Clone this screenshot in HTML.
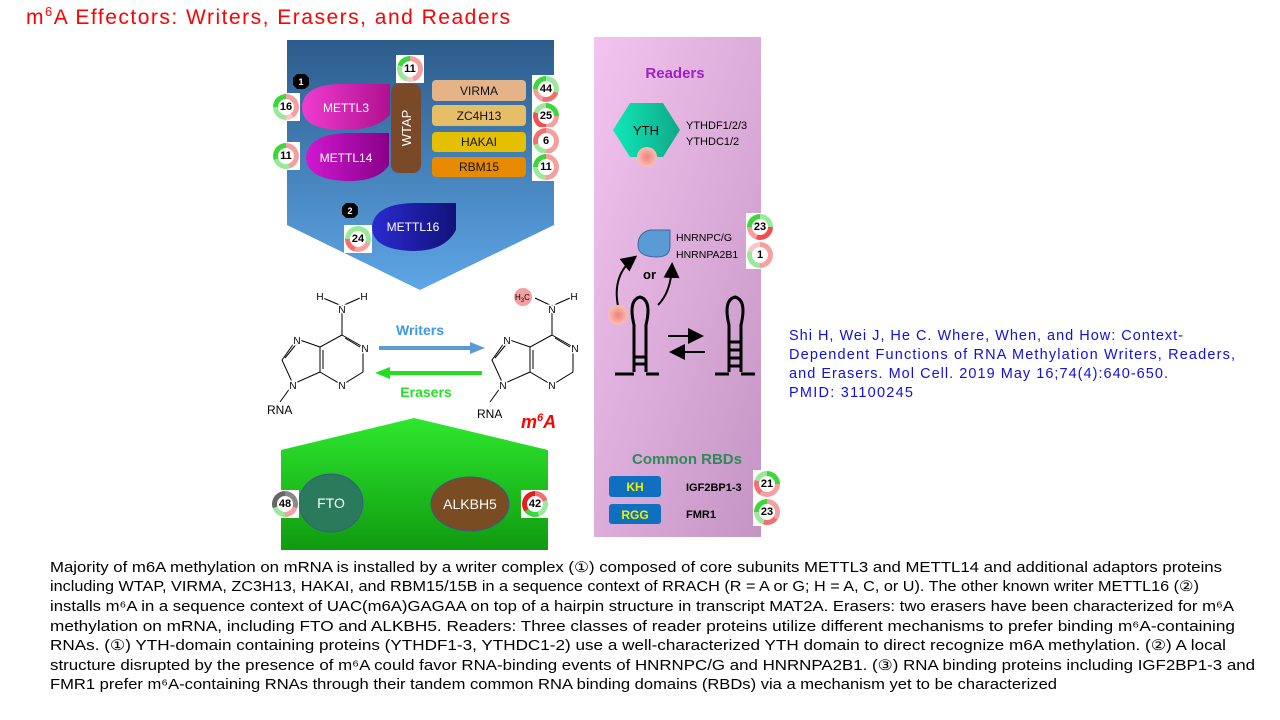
<!DOCTYPE html>
<html><head><meta charset="utf-8"><style>
body{margin:0;width:1280px;height:720px;overflow:hidden;background:#fff;position:relative;font-family:"Liberation Sans",sans-serif}
.d{position:absolute;width:28px;height:28px;background:#fff;}
.d div{position:absolute;left:1px;top:1px;width:26px;height:26px;border-radius:50%;}
.d span{position:absolute;left:6px;top:6px;width:16px;height:16px;border-radius:50%;background:#fff;font:bold 11px "Liberation Sans",sans-serif;text-align:center;line-height:16px;color:#000}
</style></head><body>
<svg width="1280" height="720" style="position:absolute;left:0;top:0">
<defs>
<linearGradient id="wg" x1="0" y1="0" x2="0" y2="1"><stop offset="0" stop-color="#2c5c8c"/><stop offset="1" stop-color="#5ea6e6"/></linearGradient>
<linearGradient id="rg" x1="0" y1="0" x2="1" y2="1"><stop offset="0" stop-color="#f4c4f0"/><stop offset="1" stop-color="#c494c4"/></linearGradient>
<linearGradient id="eg" x1="0" y1="0" x2="0" y2="1"><stop offset="0" stop-color="#2ee82e"/><stop offset="1" stop-color="#109a10"/></linearGradient>
<linearGradient id="m3" x1="0" x2="1"><stop offset="0" stop-color="#f03cd0"/><stop offset="1" stop-color="#b01090"/></linearGradient>
<linearGradient id="m14" x1="0" x2="1"><stop offset="0" stop-color="#d018d0"/><stop offset="1" stop-color="#880088"/></linearGradient>
<linearGradient id="m16" x1="0" x2="1"><stop offset="0" stop-color="#2a2ad0"/><stop offset="1" stop-color="#12127a"/></linearGradient>
<linearGradient id="yt" x1="0" x2="1"><stop offset="0" stop-color="#10e8b8"/><stop offset="1" stop-color="#10a888"/></linearGradient>
<radialGradient id="pk"><stop offset="0" stop-color="#f08080"/><stop offset="1" stop-color="#f8c0b0"/></radialGradient>
<marker id="ab" markerWidth="8" markerHeight="8" refX="6" refY="4" orient="auto"><path d="M0,0 L8,4 L0,8 Z" fill="#000"/></marker>
</defs>
<text x="26" y="24" font-size="21" fill="#f00" textLength="484" font-family="Liberation Sans">m<tspan font-size="13" dy="-8">6</tspan><tspan dy="8">A Effectors: Writers, Erasers, and Readers</tspan></text>

<!-- writers panel -->
<polygon points="287,40 554,40 554,225 420,290 287,225" fill="url(#wg)"/>
<path d="M390,84 L390,115 Q375,131 340,130 Q302,129 302,107 Q303,85 340,84 Z" fill="url(#m3)"/>
<text x="346" y="112" font-size="12" fill="#fff" text-anchor="middle">METTL3</text>
<path d="M389,133 L389,165 Q378,182 345,181 Q306,179 306,157 Q308,135 345,133 Z" fill="url(#m14)"/>
<text x="346" y="162" font-size="12" fill="#fff" text-anchor="middle">METTL14</text>
<rect x="391" y="84" width="30" height="89" rx="8" fill="#7a4a28"/>
<text transform="translate(411,128) rotate(-90)" font-size="13" fill="#fff" text-anchor="middle">WTAP</text>
<rect x="432" y="80" width="94" height="21" rx="4" fill="#e4b488"/>
<rect x="432" y="105" width="94" height="21" rx="4" fill="#e6be68"/>
<rect x="432" y="132" width="94" height="20" rx="4" fill="#e4c000"/>
<rect x="432" y="157" width="94" height="20" rx="4" fill="#e88a00"/>
<g font-size="12" fill="#111" text-anchor="middle"><text x="479" y="95">VIRMA</text><text x="479" y="120">ZC4H13</text><text x="479" y="146">HAKAI</text><text x="479" y="171">RBM15</text></g>
<path d="M456,203 L456,230 Q445,251 414,251 Q372,250 372,227 Q374,204 414,203 Z" fill="url(#m16)"/>
<text x="413" y="231" font-size="12" fill="#fff" text-anchor="middle">METTL16</text>
<g font-size="9" font-weight="bold" fill="#fff" text-anchor="middle">
<polygon points="297,74 305,74 309,78 309,85 305,89 297,89 293,85 293,78" fill="#000"/><text x="301" y="85">1</text>
<polygon points="346,203 354,203 358,207 358,214 354,218 346,218 342,214 342,207" fill="#000"/><text x="350" y="214">2</text>
<polygon points="301,460 309,460 313,464 313,471 309,475 301,475 297,471 297,464" fill="#000"/><text x="305" y="471">1</text>
<polygon points="429,463 437,463 441,467 441,474 437,478 429,478 425,474 425,467" fill="#000"/><text x="433" y="474">2</text>
<polygon points="619,211 627,211 631,215 631,222 627,226 619,226 615,222 615,215" fill="#000"/><text x="623" y="222">2</text>
<polygon points="619,414 627,414 631,418 631,425 627,429 619,429 615,425 615,418" fill="#000"/><text x="623" y="425">1</text>
</g>

<!-- molecules -->
<g stroke="#000" stroke-width="1" fill="none">
<path d="M342,335 L363,347 L363,372 L342,385 L320,372 L320,347 Z M320,347 L297,339 L282,360 L293,384 L320,372 M342,335 L342,312 M342,306 L323,298 M342,306 L360,298 M293,384 L280,402 M345,338 L360,347 M323,350 L323,369 M285,358 L298,342"/>
<path d="M552,335 L573,347 L573,372 L552,385 L530,372 L530,347 Z M530,347 L507,339 L492,360 L503,384 L530,372 M552,335 L552,312 M552,306 L535,298 M552,306 L570,298 M503,384 L490,402 M555,338 L570,347 M533,350 L533,369 M495,358 L508,342"/>
</g>
<circle cx="523" cy="297" r="9" fill="#f4a0a0"/>
<g font-size="10" fill="#000" text-anchor="middle" stroke="#fff" stroke-width="3" paint-order="stroke">
<text x="342" y="313">N</text><text x="320" y="300">H</text><text x="364" y="300">H</text>
<text x="365" y="352">N</text><text x="342" y="389">N</text><text x="297" y="344">N</text><text x="293" y="389">N</text>
<text x="552" y="313">N</text><text x="574" y="300">H</text>
<text x="575" y="352">N</text><text x="552" y="389">N</text><text x="507" y="344">N</text><text x="503" y="389">N</text>
</g>
<text x="515" y="300" font-size="8" fill="#000">H<tspan font-size="6" dy="2">3</tspan><tspan dy="-2">C</tspan></text>
<text x="267" y="414" font-size="12">RNA</text>
<text x="477" y="418" font-size="12">RNA</text>
<text x="521" y="428" font-size="18" font-weight="bold" font-style="italic" fill="#f00">m<tspan font-size="11" dy="-7">6</tspan><tspan dy="7">A</tspan></text>
<line x1="379" y1="348" x2="472" y2="348" stroke="#5b9bd5" stroke-width="4"/><polygon points="470,342 485,348 470,354" fill="#5b9bd5"/>
<text x="420" y="335" font-size="14" font-weight="bold" fill="#3a9ae6" text-anchor="middle">Writers</text>
<line x1="482" y1="373" x2="388" y2="373" stroke="#20e020" stroke-width="4"/><polygon points="390,367 375,373 390,379" fill="#20e020"/>
<text x="426" y="397" font-size="14" font-weight="bold" fill="#22e022" text-anchor="middle">Erasers</text>

<!-- erasers -->
<polygon points="281,450 414,418 548,450 548,550 281,550" fill="url(#eg)"/>
<ellipse cx="331" cy="503" rx="32" ry="29" fill="#2a7a5c" stroke="#3a5a8a"/>
<text x="331" y="508" font-size="14" fill="#fff" text-anchor="middle">FTO</text>
<ellipse cx="470" cy="504" rx="39" ry="27" fill="#7a4c22" stroke="#3a5a8a"/>
<text x="470" y="509" font-size="14" fill="#fff" text-anchor="middle">ALKBH5</text>

<!-- readers -->
<rect x="594" y="37" width="167" height="500" fill="url(#rg)"/>
<text x="675" y="78" font-size="15" font-weight="bold" fill="#a020c8" text-anchor="middle">Readers</text>
<polygon points="613,130 630,103 663,103 680,130 663,157 630,157" fill="url(#yt)"/>
<text x="646" y="135" font-size="13" fill="#000" text-anchor="middle">YTH</text>
<circle cx="647" cy="157" r="10" fill="url(#pk)"/>
<g font-size="11" fill="#000"><text x="686" y="129">YTHDF1/2/3</text><text x="686" y="145">YTHDC1/2</text></g>
<path d="M650,230 L670,230 L670,246 Q670,257 657,257 Q638,257 638,245 Q638,233 650,230 Z" fill="#5b9bd5" stroke="#3a6a9a"/>
<g font-size="10.5" fill="#000"><text x="676" y="241">HNRNPC/G</text><text x="676" y="258">HNRNPA2B1</text></g>
<text x="643" y="279" font-size="13" font-weight="bold">or</text>
<path d="M618,306 Q612,275 634,258" stroke="#000" stroke-width="2" fill="none" marker-end="url(#ab)"/>
<path d="M658,305 Q671,292 672,266" stroke="#000" stroke-width="2" fill="none" marker-end="url(#ab)"/>
<circle cx="618" cy="315" r="10" fill="url(#pk)"/>
<g stroke="#000" stroke-width="3" fill="none">
<path d="M634,372 L634,325 Q628,300 640,297 Q652,300 646,325 L646,372"/>
<path d="M615,374 L634,374 M646,374 L659,374 M634,357 L646,357 M634,364 L646,364"/>
<path d="M729,372 L729,325 Q723,300 735,297 Q747,300 741,325 L741,372"/>
<path d="M715,374 L729,374 M741,374 L755,374 M729,342 L741,342 M729,350 L741,350 M729,358 L741,358 M729,366 L741,366"/>
</g>
<line x1="668" y1="336" x2="700" y2="336" stroke="#000" stroke-width="2" marker-end="url(#ab)"/>
<line x1="705" y1="352" x2="673" y2="352" stroke="#000" stroke-width="2" marker-end="url(#ab)"/>
<text x="687" y="464" font-size="15" font-weight="bold" fill="#2e8b57" text-anchor="middle">Common RBDs</text>
<rect x="609" y="476" width="52" height="21" rx="3" fill="#1070c0"/>
<rect x="609" y="504" width="52" height="20" rx="3" fill="#1070c0"/>
<text x="635" y="491" font-size="12" font-weight="bold" fill="#f0f000" text-anchor="middle">KH</text>
<text x="635" y="519" font-size="12" font-weight="bold" fill="#f0f000" text-anchor="middle">RGG</text>
<g font-size="11" font-weight="bold" fill="#000"><text x="686" y="491">IGF2BP1-3</text><text x="686" y="518">FMR1</text></g>

<!-- citation -->
<g font-size="14.5" fill="#1010e0">
<text x="789" y="340" textLength="394">Shi H, Wei J, He C. Where, When, and How: Context-</text>
<text x="789" y="359" textLength="446">Dependent Functions of RNA Methylation Writers, Readers,</text>
<text x="789" y="378" textLength="379">and Erasers. Mol Cell. 2019 May 16;74(4):640-650.</text>
<text x="789" y="397" textLength="124">PMID: 31100245</text>
</g>

<!-- description -->
<g font-size="14.5" fill="#000" lengthAdjust="spacingAndGlyphs">
<text x="50" y="572" textLength="1172" lengthAdjust="spacingAndGlyphs">Majority of m6A methylation on mRNA is installed by a writer complex (①) composed of core subunits METTL3 and METTL14 and additional adaptors proteins</text>
<text x="50" y="591" textLength="1149" lengthAdjust="spacingAndGlyphs">including WTAP, VIRMA, ZC3H13, HAKAI, and RBM15/15B in a sequence context of RRACH (R = A or G; H = A, C, or U). The other known writer METTL16 (②)</text>
<text x="50" y="611" textLength="1184" lengthAdjust="spacingAndGlyphs">installs m⁶A in a sequence context of UAC(m6A)GAGAA on top of a hairpin structure in transcript MAT2A. Erasers: two erasers have been characterized for m⁶A</text>
<text x="50" y="631" textLength="1185" lengthAdjust="spacingAndGlyphs">methylation on mRNA, including FTO and ALKBH5. Readers: Three classes of reader proteins utilize different mechanisms to prefer binding m⁶A-containing</text>
<text x="50" y="650" textLength="1176" lengthAdjust="spacingAndGlyphs">RNAs. (①) YTH-domain containing proteins (YTHDF1-3, YTHDC1-2) use a well-characterized YTH domain to direct recognize m6A methylation. (②) A local</text>
<text x="50" y="670" textLength="1205" lengthAdjust="spacingAndGlyphs">structure disrupted by the presence of m⁶A could favor RNA-binding events of HNRNPC/G and HNRNPA2B1. (③) RNA binding proteins including IGF2BP1-3 and</text>
<text x="50" y="689" textLength="1007" lengthAdjust="spacingAndGlyphs">FMR1 prefer m⁶A-containing RNAs through their tandem common RNA binding domains (RBDs) via a mechanism yet to be characterized</text>
</g>
</svg>

<div class="d" style="left:396px;top:55px"><div style="background:conic-gradient(#f4a0a0 0 45%,#f8c8c8 45% 55%,#9ae89a 55% 80%,#3ad83a 80% 100%)"></div><span>11</span></div>
<div class="d" style="left:272px;top:93px"><div style="background:conic-gradient(#f4a0a0 0 40%,#f8c8c8 40% 50%,#9ae89a 50% 75%,#3ad83a 75% 100%)"></div><span>16</span></div>
<div class="d" style="left:272px;top:142px"><div style="background:conic-gradient(#f4a0a0 0 45%,#9ae89a 45% 70%,#3ad83a 70% 100%)"></div><span>11</span></div>
<div class="d" style="left:532px;top:75px"><div style="background:conic-gradient(#9ae89a 0 30%,#f07070 30% 55%,#f4a0a0 55% 75%,#3ad83a 75% 100%)"></div><span>44</span></div>
<div class="d" style="left:532px;top:102px"><div style="background:conic-gradient(#3ad83a 0 25%,#f4a0a0 25% 50%,#f05050 50% 80%,#9ae89a 80% 100%)"></div><span>25</span></div>
<div class="d" style="left:532px;top:127px"><div style="background:conic-gradient(#f4a0a0 0 50%,#9ae89a 50% 70%,#f07070 70% 100%)"></div><span>6</span></div>
<div class="d" style="left:532px;top:153px"><div style="background:conic-gradient(#f4a0a0 0 50%,#9ae89a 50% 75%,#3ad83a 75% 100%)"></div><span>11</span></div>
<div class="d" style="left:344px;top:225px"><div style="background:conic-gradient(#9ae89a 0 30%,#f4a0a0 30% 55%,#f07070 55% 75%,#9ae89a 75% 100%)"></div><span>24</span></div>
<div class="d" style="left:746px;top:213px"><div style="background:conic-gradient(#9ae89a 0 25%,#f05050 25% 55%,#f4a0a0 55% 75%,#3ad83a 75% 100%)"></div><span>23</span></div>
<div class="d" style="left:746px;top:241px"><div style="background:conic-gradient(#f4a0a0 0 50%,#9ae89a 50% 80%,#f8c8c8 80% 100%)"></div><span>1</span></div>
<div class="d" style="left:753px;top:470px"><div style="background:conic-gradient(#3ad83a 0 25%,#f4a0a0 25% 60%,#f07070 60% 80%,#9ae89a 80% 100%)"></div><span>21</span></div>
<div class="d" style="left:753px;top:498px"><div style="background:conic-gradient(#f4a0a0 0 35%,#f07070 35% 55%,#9ae89a 55% 75%,#3ad83a 75% 100%)"></div><span>23</span></div>
<div class="d" style="left:271px;top:490px"><div style="background:conic-gradient(#888 0 30%,#f4a0a0 30% 50%,#9ae89a 50% 70%,#666 70% 100%)"></div><span>48</span></div>
<div class="d" style="left:521px;top:490px"><div style="background:conic-gradient(#f07070 0 20%,#9ae89a 20% 45%,#3ad83a 45% 65%,#e02020 65% 100%)"></div><span>42</span></div>
</body></html>
